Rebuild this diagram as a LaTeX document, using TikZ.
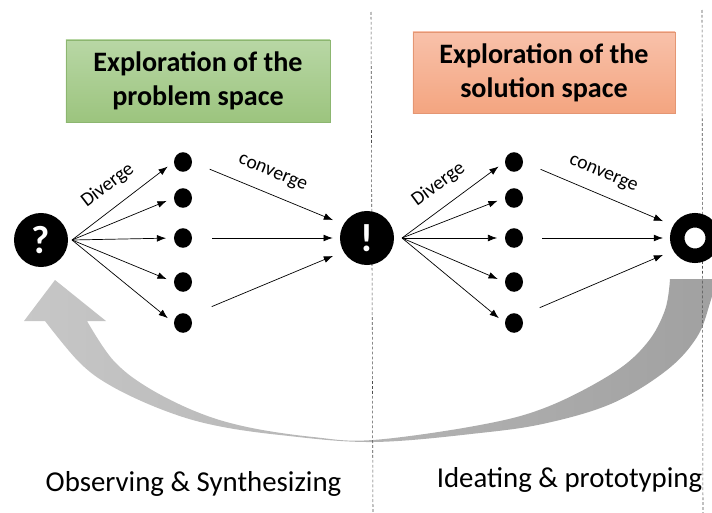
\documentclass[tikz,border=0pt]{standalone}
\usepackage{fontspec}
\setmainfont{Carlito}
\usetikzlibrary{arrows.meta,shapes.geometric}

\definecolor{probtop}{RGB}{184,215,165}
\definecolor{probbot}{RGB}{156,196,126}
\definecolor{probline}{RGB}{140,182,112}
\definecolor{soltop}{RGB}{248,193,170}
\definecolor{solbot}{RGB}{244,165,128}
\definecolor{solline}{RGB}{228,150,115}

\begin{document}
\begin{tikzpicture}
          [x=0.025cm,y=-0.025cm,
          font=\fontsize{14}{16}\selectfont,
          dot/.style={shape=ellipse,fill=black,minimum width=0.45cm,minimum height=0.49cm,inner sep=0pt},
          big/.style={shape=circle,fill=black,text=white,minimum size=1.35cm,inner sep=0pt,font=\fontsize{28}{30}\selectfont\bfseries},
          box/.style={draw,line width=0.6pt,align=center,minimum width=6.6cm,minimum height=2.05cm,font=\fontsize{20}{24}\selectfont\bfseries},
          phase/.style={anchor=base,font=\fontsize{20.5}{24}\selectfont},
          arc/.style={->,>={Latex[length=2.3mm,width=1.7mm]},line width=0.5pt},
          fan/.style={arc,shorten >=1.9mm},
          conv/.style={arc,shorten <=4.7mm,shorten >=2.8mm},
          lab/.style={pos=0.48,sloped,above=2mm},
          divider/.style={dash pattern=on 2pt off 1.5pt,line width=0.4pt,black!70}]

          \useasboundingbox (0,0) rectangle (712,513);

          % feedback arrow
          \shade [left color=black!22,right color=black!37]
            (55,280) -- (106,321)
            -- plot [smooth,tension=0.6] coordinates {(87,321) (113,360) (147,387) (197,412) (247,427) (313,437) (373,440) (480,425) (547,407) (613,373) (647,343) (665,310) (670,279)}
            -- plot [smooth,tension=0.6] coordinates {(716,279) (710,303) (697,337) (667,370) (613,403) (547,423) (480,433) (373,442) (280,435) (213,425) (163,410) (113,387) (80,363) (45,321)}
            -- (24,321) -- cycle;

          \draw [divider] (371,12) -- (373,513);
          \draw [divider] (702,10) -- (703,513);

          \node (prob) [box,draw=probline,top color=probtop,bottom color=probbot] at (198,81) {Exploration of the\\problem space};
          \node (sol) [box,draw=solline,top color=soltop,bottom color=solbot,minimum width=6.55cm,minimum height=2.025cm] at (544,72.5) {Exploration of the\\solution space};

          \node (q) [big] at (41,240) {?};
          \node (x) [big] at (367,238) {!};
          \node (o) [shape=circle,draw=black,fill=white,line width=0.3625cm,minimum size=0.8875cm,inner sep=0pt] at (695,238) {};

          \foreach \i/\y in {1/162,2/198,3/238,4/282,5/323}{
            \node (a\i) [dot] at (183,\y) {};
            \node (b\i) [dot] at (514,\y) {};
          }

          \coordinate (qfan) at (72,240);
          \coordinate (xfan) at (402,238);

          \draw [fan] (qfan) -- node [lab] (div1) {Diverge} (a1.west);
          \draw [fan] (xfan) -- node [lab] (div2) {Diverge} (b1.west);
          \foreach \i in {2,...,5}{
            \draw [fan] (qfan) -- (a\i.west);
            \draw [fan] (xfan) -- (b\i.west);
          }

          \draw [conv] (a1.east) -- node [lab] (conv1) {converge} (x.150);
          \draw [conv,shorten <=5mm,shorten >=1.75mm] (a3.east) -- (x.west);
          \draw [conv,shorten <=6mm] (a5.north east) -- (x.210);

          \draw [conv] (b1.east) -- node [lab] (conv2) {converge} (o.150);
          \draw [conv,shorten <=4.8mm,shorten >=1.75mm] (b3.east) -- (o.west);
          \draw [conv,shorten <=5.2mm] (b5.north east) -- (o.210);

          \node (obs) [phase] at (193.5,491) {Observing \& Synthesizing};
          \node (ide) [phase] at (569.5,487) {Ideating \& prototyping};

        \end{tikzpicture}
\end{document}
